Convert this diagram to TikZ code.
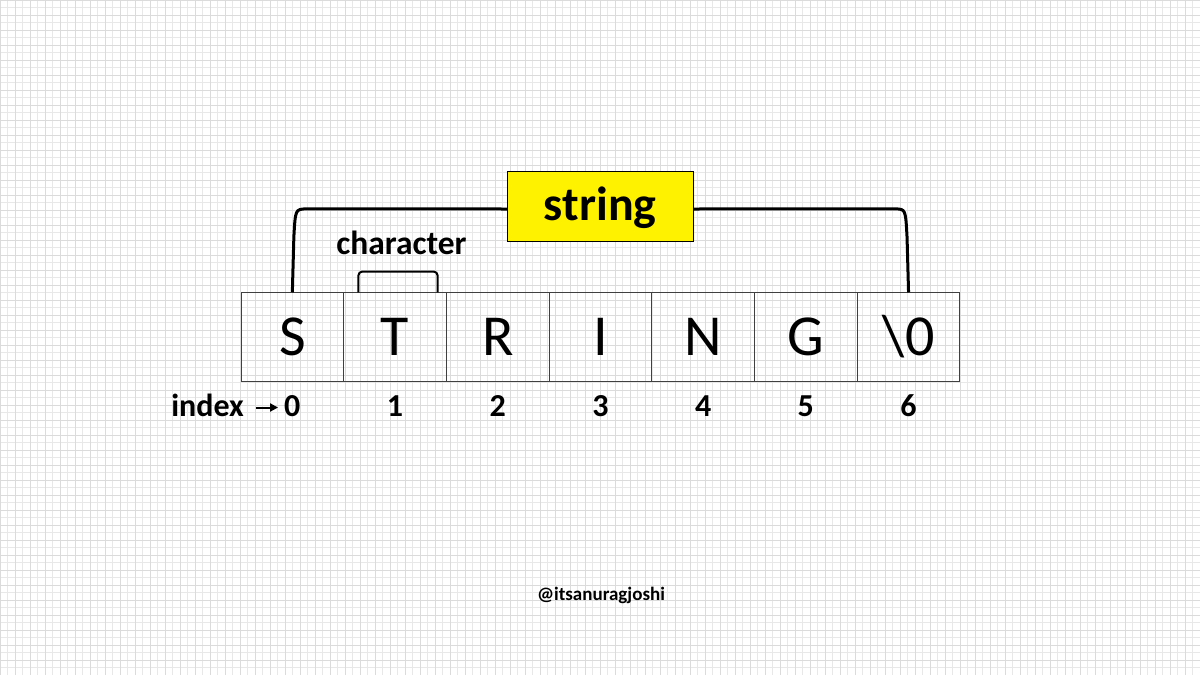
\documentclass[tikz,border=0pt]{standalone}
\usepackage{fontspec}
\setmainfont{Carlito}
\usetikzlibrary{calc,arrows.meta}
\begin{document}
\begin{tikzpicture}[x=1pt,y=-1pt,
  cell/.style={draw=black!75,line width=0.9pt,minimum width=102.7pt,minimum height=89pt,inner sep=0pt,
    text height=37.3pt,text depth=0pt,font=\fontsize{58}{60}\selectfont},
  idxlab/.style={inner sep=0pt,anchor=base,font=\fontsize{32}{34}\selectfont\bfseries},
  bracket/.style={line width=3pt},
  smallbracket/.style={line width=2pt,rounded corners=4pt},
  strbox/.style={draw=black,line width=1pt,fill=yellow,minimum width=186pt,minimum height=70pt,inner sep=0pt,
    text height=38pt,text depth=10pt,font=\fontsize{48}{50}\selectfont\bfseries}]
\useasboundingbox (0,0) rectangle (1200,675);
\fill[white] (0,0) rectangle (1200,675);
\draw[black!9,line width=0.6pt] (0,0) grid[step=7.5pt] (1200,675);
\draw[black!14,line width=0.8pt] (0,0) grid[step=15pt] (1200,675);
% cells
\foreach \t [count=\i from 0] in {S,T,R,I,N,G,\textbackslash 0}{
  \node[cell] (c\i) at (292.35+\i*102.7,337.2) {\t};
  \node[idxlab] (n\i) at (292.35+\i*102.7,416.5) {\i};
}
\node[idxlab,anchor=base east] (idx) at (244,416.5) {index};
\draw[line width=2pt,-{Triangle[length=8pt,width=8pt]},shorten <=12pt,shorten >=6pt] ([yshift=9pt]idx.base east) -- ([yshift=9pt]n0.base west);
% string box and bracket
\node[strbox] (str) at (600.3,206) {string};
\draw[bracket] (c0.north) -- ([xshift=1.5pt,yshift=55pt]c0.north)
  .. controls ([xshift=3pt,yshift=83pt]c0.north) .. ([xshift=14pt,yshift=83.4pt]c0.north)
  -- ([yshift=-3pt]str.west);
\draw[bracket] ([yshift=-3pt]str.east) -- ([xshift=-13pt,yshift=83.4pt]c6.north)
  .. controls ([xshift=-3pt,yshift=83pt]c6.north) .. ([xshift=-1.5pt,yshift=55pt]c6.north)
  -- (c6.north);
% character bracket
\coordinate (cl) at ([xshift=-36.7pt]c1.north);
\coordinate (cr) at ([xshift=42.6pt]c1.north);
\node[inner sep=0pt,anchor=base,font=\fontsize{33.5}{35}\selectfont\bfseries] (chr) at (401.5,254.3) {character};
\draw[smallbracket] (cl) -- ([yshift=20.7pt]cl) -- ([yshift=20.7pt]cr) -- (cr);
% handle
\node[inner sep=0pt,anchor=base,font=\fontsize{19}{21}\selectfont\bfseries] (handle) at (601,600) {@itsanuragjoshi};
\end{tikzpicture}
\end{document}
